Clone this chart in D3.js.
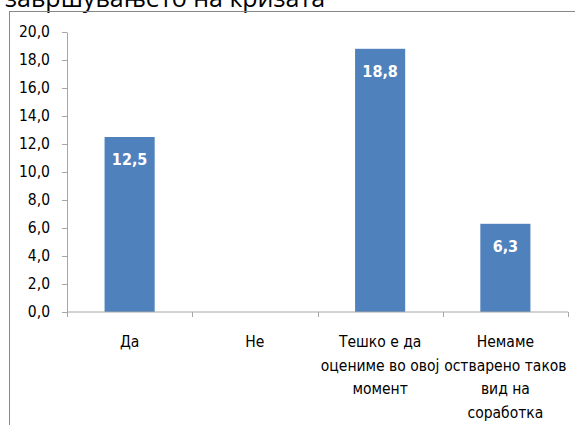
<!DOCTYPE html>
<html>
<head>
<meta charset="utf-8">
<script src="https://cdn.jsdelivr.net/npm/d3@7"></script>
<style>
body { margin: 0; background: #fff; }
text { font-family: "DejaVu Sans Condensed", "DejaVu Sans", sans-serif; }
</style>
</head>
<body>
<div id="chart"></div>
<script>
var categories = ["Да", "Не", "Тешко е да|оцениме во овој|момент", "Немаме|остварено таков|вид на|соработка"];
var values = [12.5, 0, 18.8, 6.3];
var yTicks = [0, 2, 4, 6, 8, 10, 12, 14, 16, 18, 20];

var width = 575, height = 425;
var margin = {top: 32, right: 7, bottom: 113, left: 67};

var svg = d3.select("#chart")
    .append("svg")
    .attr("width", width)
    .attr("height", height);

// title, cut off at the top like in the picture
svg.append("text")
    .attr("x", 5)
    .attr("y", 7)
    .attr("font-size", 25)
    .attr("fill", "#000")
    .style("font-family", "'Open Sans', sans-serif")
    .text("завршувањето на кризата");

// chart border
svg.append("rect")
    .attr("x", 9.5)
    .attr("y", 11.5)
    .attr("width", 600)
    .attr("height", 500)
    .attr("fill", "none")
    .attr("stroke", "#878787")
    .attr("stroke-width", 1);

var x = d3.scaleBand()
    .domain(categories)
    .range([margin.left, width - margin.right])
    .padding(0);

var y = d3.scaleLinear()
    .domain([0, 20])
    .range([height - margin.bottom, margin.top]);

var fmt = function(v) { return d3.format(".1f")(v).replace(".", ","); };

// y axis
var yAxis = svg.append("g")
    .attr("transform", "translate(" + margin.left + ",0)")
    .call(d3.axisLeft(y).tickValues(yTicks).tickSize(5).tickSizeOuter(0).tickPadding(12).tickFormat(fmt));
yAxis.select(".domain").attr("stroke", "#a6a6a6");
yAxis.selectAll(".tick line").attr("stroke", "#a6a6a6");
yAxis.selectAll(".tick text").attr("font-size", 15.5).attr("fill", "#000")
    .style("font-family", "'DejaVu Sans Condensed', sans-serif");

// bars
var barW = x.bandwidth() * 0.4;
svg.append("g")
    .selectAll("rect")
    .data(values)
    .enter().append("rect")
    .filter(function(d) { return d > 0; })
    .attr("x", function(d, i) { return x(categories[values.indexOf(d)]) + (x.bandwidth() - barW) / 2; })
    .attr("y", function(d) { return y(d); })
    .attr("width", barW)
    .attr("height", function(d) { return y(0) - y(d); })
    .attr("fill", "#4f81bd");

// value labels
svg.append("g")
    .selectAll("text")
    .data(values.filter(function(d) { return d > 0; }))
    .enter().append("text")
    .attr("x", function(d) { return x(categories[values.indexOf(d)]) + x.bandwidth() / 2; })
    .attr("y", function(d) { return y(d) + 28; })
    .attr("text-anchor", "middle")
    .attr("font-size", 16)
    .attr("font-weight", "bold")
    .attr("fill", "#fff")
    .text(fmt);

// x axis
var xAxis = svg.append("g")
    .attr("transform", "translate(0," + y(0) + ")");
xAxis.append("line")
    .attr("x1", margin.left).attr("x2", width - margin.right)
    .attr("stroke", "#a6a6a6");
var edges = categories.map(function(c) { return x(c); }).concat([width - margin.right]);
xAxis.selectAll(".tk")
    .data(edges)
    .enter().append("line")
    .attr("x1", function(d) { return Math.round(d) + 0.5; })
    .attr("x2", function(d) { return Math.round(d) + 0.5; })
    .attr("y1", 0).attr("y2", 5)
    .attr("stroke", "#a6a6a6");

var labels = xAxis.selectAll(".lbl")
    .data(categories)
    .enter().append("text")
    .attr("text-anchor", "middle")
    .attr("font-size", 15.5)
    .attr("fill", "#000")
    .attr("transform", function(d) { return "translate(" + (x(d) + x.bandwidth() / 2) + ",35)"; });
labels.each(function(d) {
    var t = d3.select(this);
    d.split("|").forEach(function(line, i) {
        t.append("tspan").attr("x", 0).attr("y", i * 23.5).text(line);
    });
});
</script>
</body>
</html>
